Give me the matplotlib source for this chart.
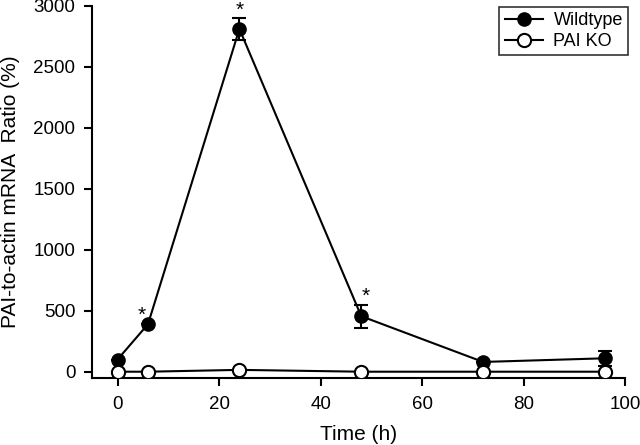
import numpy as np
import matplotlib
matplotlib.use('Agg')
import matplotlib.pyplot as plt
from matplotlib.lines import Line2D

plt.rcParams['font.family'] = ['Liberation Sans', 'DejaVu Sans']

# Data
time_h = [0, 6, 24, 48, 72, 96]
wildtype = [100, 390, 2810, 455, 80, 110]
wildtype_err = [0, 0, 88, 95, 0, 60]
pai_ko = [0, 0, 15, 0, 0, 0]
star_points = [6, 24, 48]
star_dx_px = [-6, 0, 4]

fig = plt.figure(figsize=(6.4, 4.45), dpi=100)
ax = fig.add_axes([0.144, 0.151, 0.833, 0.836])

ax.errorbar(time_h, wildtype, yerr=wildtype_err, color='black', marker='o', markersize=9.5,
            markerfacecolor='black', markeredgecolor='black', lw=1.5, capsize=5, capthick=1.5,
            elinewidth=1.5, zorder=3)
ax.plot(time_h, pai_ko, color='black', marker='o', markersize=9.5,
        markerfacecolor='white', markeredgecolor='black', markeredgewidth=1.5, lw=1.5, zorder=4)

# significance stars above selected wildtype points
for t, dx in zip(star_points, star_dx_px):
    i = time_h.index(t)
    top = wildtype[i] + wildtype_err[i]
    ax.annotate('*', (t, top), xytext=(dx * 0.72, 6), textcoords='offset points',
                ha='center', va='center', fontsize=15, annotation_clip=False)

ax.set_xlim(-5, 100)
ax.set_ylim(-50, 3000)
ax.set_xticks([0, 20, 40, 60, 80, 100])
ax.set_yticks([0, 500, 1000, 1500, 2000, 2500, 3000])
ax.spines['top'].set_visible(False)
ax.spines['right'].set_visible(False)
ax.spines['left'].set_linewidth(1.5)
ax.spines['bottom'].set_linewidth(1.5)
ax.tick_params(direction='out', length=6, width=1.5, labelsize=13.5)
ax.tick_params(axis='x', pad=7)
ax.tick_params(axis='y', pad=6)
ax.set_xlabel('Time (h)', fontsize=15, labelpad=9)
ax.set_ylabel('PAI-to-actin mRNA  Ratio (%)', fontsize=15, labelpad=10)

handles = [
    Line2D([], [], color='black', lw=1.5, marker='o', markersize=9.5, markerfacecolor='black'),
    Line2D([], [], color='black', lw=1.5, marker='o', markersize=9.5, markerfacecolor='white',
           markeredgewidth=1.5),
]
leg = ax.legend(handles, ['Wildtype', 'PAI KO'], loc='upper right', fontsize=13, frameon=True,
                fancybox=False, edgecolor='black', handlelength=2.1, borderpad=0.3,
                labelspacing=0.2, handletextpad=0.6, borderaxespad=0,
                bbox_to_anchor=(1.0056, 0.997))
leg.get_frame().set_linewidth(1.2)

fig.savefig('out.png', dpi=100)
